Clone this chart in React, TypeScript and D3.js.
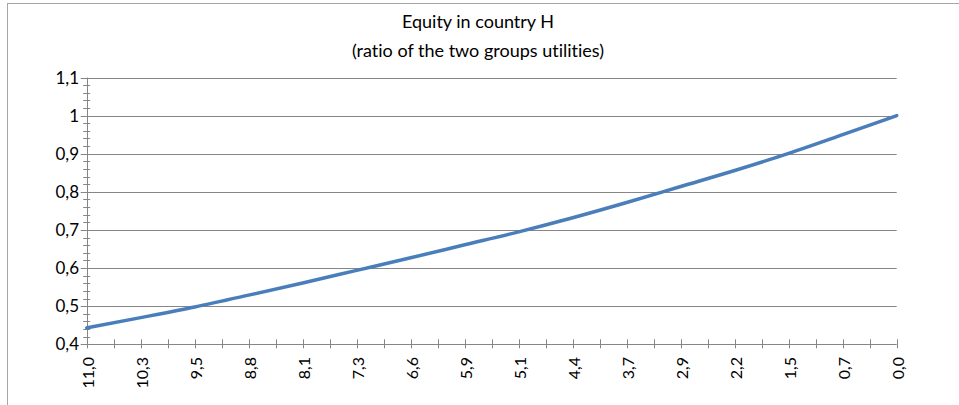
import React from "react";
import * as d3 from "d3";

const titleLines = ["Equity in country H", "(ratio of the two groups utilities)"];
const xLabels = ["11,0", "10,3", "9,5", "8,8", "8,1", "7,3", "6,6", "5,9", "5,1", "4,4", "3,7", "2,9", "2,2", "1,5", "0,7", "0,0"];
const ratioValues = [0.443, 0.470, 0.498, 0.529, 0.561, 0.594, 0.627, 0.661, 0.695, 0.732, 0.772, 0.814, 0.856, 0.901, 0.950, 1.0];
const yTicks = [0.4, 0.5, 0.6, 0.7, 0.8, 0.9, 1.0, 1.1];
const yTickLabels = ["0,4", "0,5", "0,6", "0,7", "0,8", "0,9", "1", "1,1"];

const W = 959;
const H = 405;
const FONT = "Lato, 'Open Sans', sans-serif";

export default function App() {
  const x = d3.scalePoint<string>().domain(xLabels).range([86.7, 896.7]);
  const y = d3.scaleLinear().domain([0.4, 1.1]).range([344.3, 77.5]);
  const step = x.step();

  const xTickPos: number[] = [];
  xLabels.forEach((l, i) => {
    const px = x(l) as number;
    xTickPos.push(px);
    if (i < xLabels.length - 1) xTickPos.push(px + step / 2);
  });

  const minorY = d3.range(20, 56).map((v) => v / 50);

  const line = d3
    .line<number>()
    .x((_, i) => x(xLabels[i]) as number)
    .y((d) => y(d))
    .curve(d3.curveMonotoneX);

  const axisColor = "#868686";
  const x0 = x(xLabels[0]) as number;
  const x1 = x(xLabels[xLabels.length - 1]) as number;

  return (
    <svg
      width={W}
      height={H}
      style={{ position: "absolute", left: 0, top: 0, background: "#fff", fontVariantLigatures: "none" }}
    >
      <rect x={7.5} y={3.5} width={W + 10} height={H + 10} fill="#fff" stroke="#a6a6a6" strokeWidth={1} />
      {titleLines.map((t, i) => (
        <text key={t} x={478} y={28 + i * 29} textAnchor="middle" fontFamily={FONT} fontSize={18} fill="#000">
          {t}
        </text>
      ))}
      {yTicks.slice(1).map((v) => (
        <line key={"g" + v} x1={x0} x2={x1} y1={Math.round(y(v)) + 0.5} y2={Math.round(y(v)) + 0.5} stroke={axisColor} strokeWidth={1} />
      ))}
      {minorY.map((v) => (
        <line key={"my" + v} x1={x0 - 3.5} x2={x0 + 3.5} y1={Math.round(y(v)) + 0.5} y2={Math.round(y(v)) + 0.5} stroke={axisColor} strokeWidth={1} />
      ))}
      {yTicks.map((v) => (
        <line key={"My" + v} x1={x0 - 6} x2={x0} y1={Math.round(y(v)) + 0.5} y2={Math.round(y(v)) + 0.5} stroke={axisColor} strokeWidth={1} />
      ))}
      <line x1={Math.round(x0) + 0.5} x2={Math.round(x0) + 0.5} y1={y(1.1)} y2={y(0.4)} stroke={axisColor} strokeWidth={1} />
      <line x1={x0} x2={x1} y1={Math.round(y(0.4)) + 0.5} y2={Math.round(y(0.4)) + 0.5} stroke={axisColor} strokeWidth={1} />
      {xTickPos.map((p, i) => (
        <line key={"xt" + i} x1={Math.round(p) + 0.5} x2={Math.round(p) + 0.5} y1={y(0.4) - 5} y2={y(0.4) + 4} stroke={axisColor} strokeWidth={1} />
      ))}
      {yTicks.map((v, i) => (
        <text key={"yl" + v} x={79} y={y(v) + 6} textAnchor="end" fontFamily={FONT} fontSize={17} fill="#000">
          {yTickLabels[i]}
        </text>
      ))}
      {xLabels.map((l) => (
        <text
          key={"xl" + l}
          transform={`translate(${(x(l) as number) + 1},${357}) rotate(-90)`}
          textAnchor="end"
          dominantBaseline="central"
          fontFamily={FONT}
          fontSize={16}
          fill="#000"
        >
          {l}
        </text>
      ))}
      <path d={line(ratioValues) || ""} fill="none" stroke="#4a7ebb" strokeWidth={3.5} strokeLinecap="round" />
    </svg>
  );
}
